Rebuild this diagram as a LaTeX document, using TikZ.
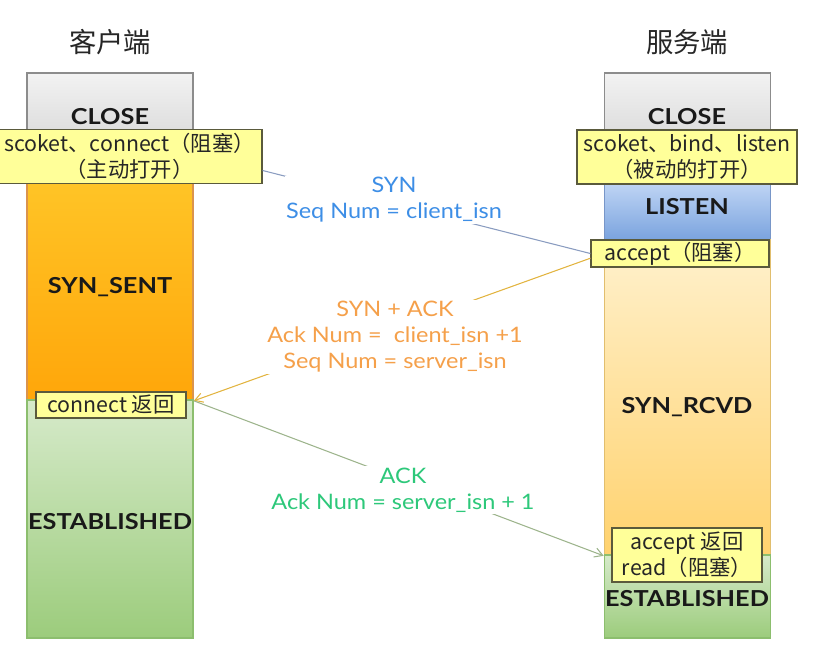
\documentclass[tikz,border=0pt]{standalone}
\usepackage{fontspec}
\setmainfont{Noto Sans CJK SC}
\newfontfamily\labfont[FakeStretch=1.1]{Lato}
\newfontfamily\statefont[FakeStretch=1.15]{Lato}
\usetikzlibrary{arrows.meta}
\definecolor{boxfill}{HTML}{FFFF99}
\definecolor{boxline}{HTML}{5A5A3C}
\definecolor{synblue}{HTML}{3D8EE6}
\definecolor{synorange}{HTML}{F5A04A}
\definecolor{ackgreen}{HTML}{2DC87A}
\definecolor{synline}{HTML}{8A9CC0}
\definecolor{sakline}{HTML}{E2B440}
\definecolor{ackline}{HTML}{9DB48C}
\tikzset{
  px/.style={x=0.75pt,y=-0.75pt},
  col/.style={rectangle, inner sep=0pt, line width=1.2pt, minimum width=166*0.75pt},
  graycol/.style={col, draw=black!45, top color=black!5, bottom color=black!20},
  sentcol/.style={col, draw=orange!80!black!70, top color={rgb,255:red,255;green,196;blue,38}, bottom color={rgb,255:red,255;green,166;blue,10}},
  rcvdcol/.style={col, draw={rgb,255:red,225;green,190;blue,110}, top color={rgb,255:red,255;green,241;blue,205}, bottom color={rgb,255:red,255;green,210;blue,110}},
  bluecol/.style={col, draw={rgb,255:red,120;green,150;blue,200}, top color={rgb,255:red,190;green,212;blue,244}, bottom color={rgb,255:red,122;green,163;blue,222}},
  greencol/.style={col, draw={rgb,255:red,140;green,190;blue,110}, top color={rgb,255:red,214;green,234;blue,202}, bottom color={rgb,255:red,156;green,204;blue,124}},
  ybox/.style={rectangle, draw=boxline, fill=boxfill, line width=0.9pt, inner sep=0pt, align=center, font=\fontsize{16}{19.5}\selectfont, text=black!85},
  statetxt/.style={font=\statefont\bfseries\fontsize{16.5}{20}\selectfont, text=black!90},
  title/.style={font=\fontsize{20.5}{24}\selectfont, text=black!85},
  msg/.style={fill=white, inner sep=1pt, align=center, font=\labfont\fontsize{16}{19.5}\selectfont},
  conn/.style={line width=0.8pt},
}
\begin{document}
\begin{tikzpicture}[px]
\useasboundingbox (0,0) rectangle (817,662);
% titles
\node[title] (tc) at (110,42) {客户端};
\node[title] (ts) at (687,42) {服务端};
% client column
\node[graycol, minimum height=110*0.75pt] (cclose) at (110,128) {};
\node[sentcol, minimum height=217*0.75pt] (csent) at (110,291.5) {};
\node[greencol, minimum height=238*0.75pt] (cest) at (110,519) {};
\node[statetxt] (lcclose) at (110,117) {CLOSE};
\node[statetxt] (lcsent) at (110,287) {SYN\_SENT};
\node[statetxt] (lcest) at (110,522) {ESTABLISHED};
% server column
\node[graycol, minimum height=111*0.75pt] (sclose) at (687.5,128.5) {};
\node[bluecol, minimum height=56*0.75pt] (slisten) at (687.5,212) {};
\node[rcvdcol, minimum height=315*0.75pt] (srcvd) at (687.5,397.5) {};
\node[greencol, minimum height=83*0.75pt] (sest) at (687.5,596.5) {};
\node[statetxt] (lsclose) at (687,117) {CLOSE};
\node[statetxt] (lslisten) at (687,207) {LISTEN};
\node[statetxt] (lsrcvd) at (687,407) {SYN\_RCVD};
\node[statetxt] (lsest) at (687,599) {ESTABLISHED};
% yellow boxes
\node[ybox, minimum width=265*0.75pt, minimum height=54*0.75pt] (cbox) at (129.5,156.5) {scoket、connect（阻塞）\\（主动打开）};
\node[ybox, minimum width=150*0.75pt, minimum height=26*0.75pt] (cret) at (111,405) {connect 返回};
\node[ybox, minimum width=220*0.75pt, minimum height=54*0.75pt] (sbox) at (687,157) {scoket、bind、listen\\（被动的打开）};
\node[ybox, minimum width=178*0.75pt, minimum height=27*0.75pt] (sacc) at (680,253.5) {accept（阻塞）};
\node[ybox, minimum width=150*0.75pt, minimum height=54*0.75pt] (sret) at (687,555) {accept 返回\\read（阻塞）};
% connectors
\draw[conn, draw=synline] (cbox.-6.5) -- (sacc.west);
\draw[conn, draw=sakline, -{Straight Barb[length=6pt,width=7pt]}] (sacc.183) -- (csent.south east);
\draw[conn, draw=ackline, -{Straight Barb[length=6pt,width=7pt]}] (csent.south east) -- (srcvd.south west);
% messages
\node[msg, text=synblue] (msyn) at (394,200) {SYN\\Seq Num = client\_isn};
\node[msg, text=synorange] (msak) at (395,337) {SYN + ACK\\Ack Num = \ client\_isn +1\\Seq Num = server\_isn};
\node[msg, text=ackgreen] (mack) at (403,490) {ACK\\Ack Num = server\_isn + 1};
\end{tikzpicture}
\end{document}
